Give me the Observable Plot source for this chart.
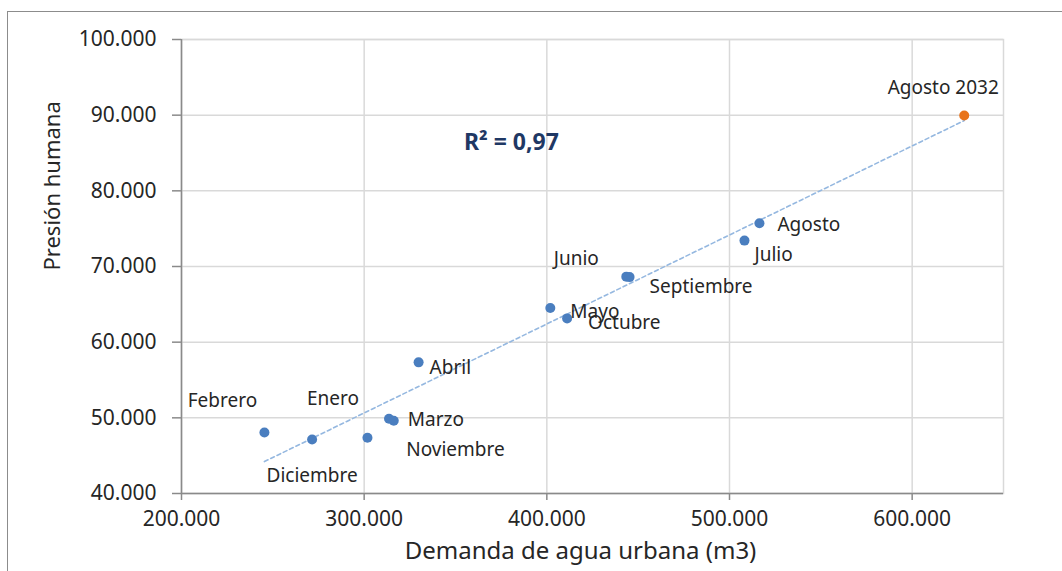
<!DOCTYPE html>
<html>
<head>
<meta charset="utf-8">
<script src="https://cdn.jsdelivr.net/npm/d3@7"></script>
<script src="https://cdn.jsdelivr.net/npm/@observablehq/plot@0.6"></script>
<style>
  html, body { margin: 0; padding: 0; background: #fff; }
  #wrap { position: relative; width: 1062px; height: 571px; overflow: hidden; }
  #border { position: absolute; left: 7px; top: 11px; width: 1100px; height: 600px;
            border-top: 1.5px solid #8c8c8c; border-left: 1.5px solid #8c8c8c; }
  #chart { position: absolute; left: 0; top: 0; }
</style>
</head>
<body>
<div id="wrap"><div id="border"></div><div id="chart"></div></div>
<script>
// ---- data ----
const months   = ["Febrero", "Diciembre", "Noviembre", "Enero", "Marzo", "Abril", "Mayo", "Octubre", "Junio", "Septiembre", "Julio", "Agosto", "Agosto 2032"];
const demand   = [245400, 271500, 301800, 313600, 316200, 329800, 401900, 411100, 443500, 445300, 508200, 516400, 628500];
const pressure = [48070, 47140, 47370, 49880, 49620, 57330, 64520, 63140, 68660, 68600, 73420, 75710, 89950];
const highlighted = "Agosto 2032";
const xTicks = [200000, 300000, 400000, 500000, 600000];
const yTicks = [40000, 50000, 60000, 70000, 80000, 90000, 100000];
const xTitle = "Demanda de agua urbana (m3)";
const yTitle = "Presión humana";

// ---- layout helpers (label placement, not data) ----
const labelPlacement = {
  "Febrero":     {dx: -42, dy: -32, anchor: "middle"},
  "Diciembre":   {dx: 0,   dy: 36,  anchor: "middle"},
  "Noviembre":   {dx: 88,  dy: 12,  anchor: "middle"},
  "Enero":       {dx: -56, dy: -20, anchor: "middle"},
  "Marzo":       {dx: 14,  dy: -1,  anchor: "start"},
  "Abril":       {dx: 11,  dy: 6,   anchor: "start"},
  "Mayo":        {dx: 20,  dy: 4,   anchor: "start"},
  "Octubre":     {dx: 21,  dy: 4,   anchor: "start"},
  "Junio":       {dx: -50, dy: -18, anchor: "middle"},
  "Septiembre":  {dx: 20,  dy: 10,  anchor: "start"},
  "Julio":       {dx: 10,  dy: 14,  anchor: "start"},
  "Agosto":      {dx: 18,  dy: 2,   anchor: "start"},
  "Agosto 2032": {dx: -21, dy: -28, anchor: "middle"}
};
const r2At = {x: 380600, y: 86400};

const points = months.map((m, i) => ({month: m, x: demand[i], y: pressure[i]}));

const loc = d3.formatLocale({decimal: ",", thousands: ".", grouping: [3], currency: ["", ""]});
const fmtInt = loc.format(",.0f");
const fmt2 = loc.format(".2f");

// R² of the linear fit
const mx = d3.mean(points, d => d.x), my = d3.mean(points, d => d.y);
const sxy = d3.sum(points, d => (d.x - mx) * (d.y - my));
const sxx = d3.sum(points, d => (d.x - mx) ** 2);
const syy = d3.sum(points, d => (d.y - my) ** 2);
const r2 = (sxy * sxy) / (sxx * syy);

const textColor = "#262626";
const font = "'Noto Sans', sans-serif";

const labelMarks = points.map(p => {
  const pl = labelPlacement[p.month];
  return Plot.text([p], {x: "x", y: "y", text: "month", dx: pl.dx, dy: pl.dy,
    textAnchor: pl.anchor, fontSize: 19, fill: textColor});
});

const chart = Plot.plot({
  width: 1062,
  height: 571,
  marginLeft: 181,
  marginRight: 59,
  marginTop: 39,
  marginBottom: 78,
  style: {fontFamily: font, background: "transparent", overflow: "visible"},
  x: {domain: [200000, 650000]},
  y: {domain: [40000, 100000]},
  marks: [
    Plot.gridX(xTicks, {stroke: "#d9d9d9", strokeOpacity: 1, strokeWidth: 1.5}),
    Plot.gridY(yTicks, {stroke: "#d9d9d9", strokeOpacity: 1, strokeWidth: 1.5}),
    Plot.frame({stroke: "#d9d9d9", strokeWidth: 1.5}),
    Plot.ruleX([200000], {stroke: "#8a8a8a", strokeWidth: 1.5}),
    Plot.ruleY([40000], {stroke: "#8a8a8a", strokeWidth: 1.5}),
    Plot.axisX({ticks: xTicks, tickFormat: fmtInt, tickSize: 7, tickPadding: 11, fontSize: 21,
      stroke: "#8a8a8a", strokeWidth: 1.5, fill: textColor, label: null}),
    Plot.axisY({ticks: yTicks, tickFormat: fmtInt, tickSize: 9, tickPadding: 16, fontSize: 21,
      stroke: "#8a8a8a", strokeWidth: 1.5, fill: textColor, label: null}),
    Plot.linearRegressionY(points, {x: "x", y: "y", ci: 0, stroke: "#95b8e0",
      strokeWidth: 1.6, strokeDasharray: "4,3"}),
    Plot.dot(points, {x: "x", y: "y", r: 5, stroke: null,
      fill: d => d.month === highlighted ? "#e8731a" : "#4a7ebf"}),
    ...labelMarks,
    Plot.text([`R² = ${fmt2(r2)}`], {x: () => r2At.x, y: () => r2At.y, text: d => d,
      fontSize: 23, fontWeight: "bold", fill: "#1f3864"}),
    Plot.text([xTitle], {frameAnchor: "bottom", text: d => d, dx: -12, dy: 65,
      fontSize: 24, fill: textColor}),
    Plot.text([yTitle], {frameAnchor: "left", text: d => d, dx: -129, dy: 4, rotate: -90,
      fontSize: 22, fill: textColor})
  ]
});
document.getElementById("chart").appendChild(chart);
</script>
</body>
</html>
